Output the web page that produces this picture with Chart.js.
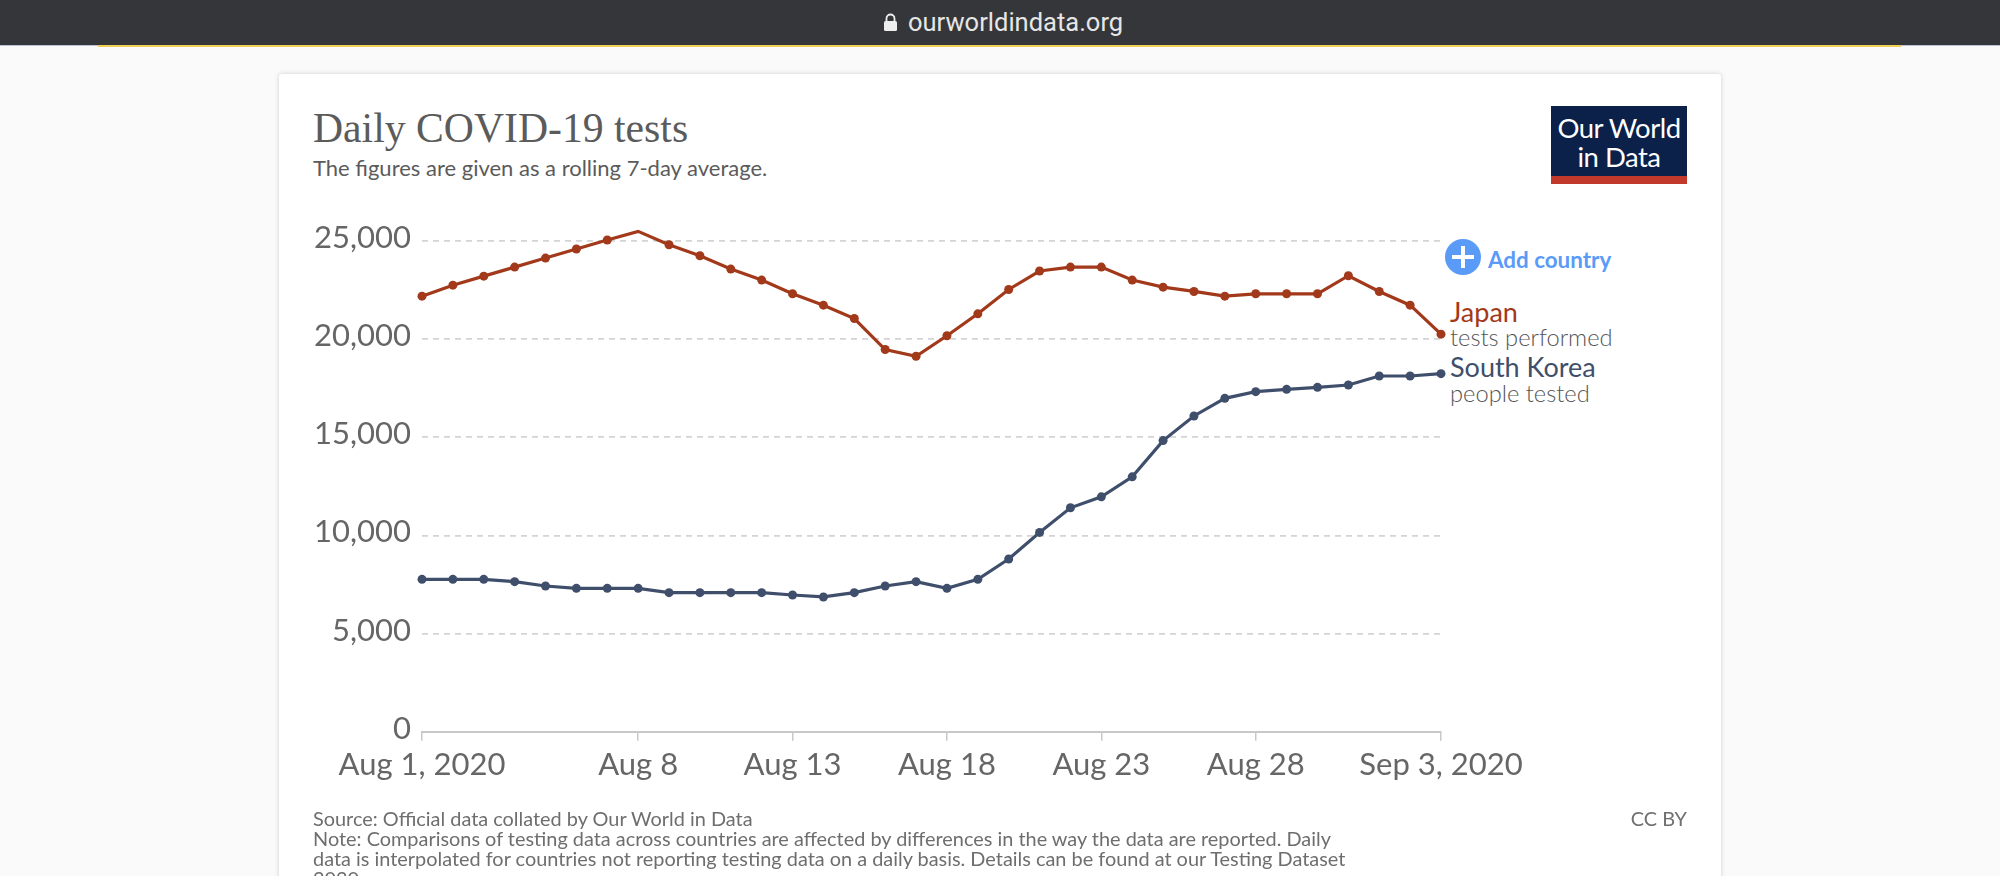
<!DOCTYPE html>
<html>
<head>
<meta charset="utf-8">
<title>Daily COVID-19 tests</title>
<script src="https://cdn.jsdelivr.net/npm/chart.js@4"></script>
<style>
html, body { margin: 0; padding: 0; width: 2000px; height: 876px; overflow: hidden; background: #fafafa; font-family: Lato, sans-serif; }
.abs { position: absolute; white-space: nowrap; line-height: 1; }
#bar { position: absolute; left: 0; top: 0; width: 2000px; height: 45px; background: #35363a; }
#barline { position: absolute; left: 0; top: 45px; width: 2000px; height: 1px; background: #b9c2d6; }
#yellow { position: absolute; left: 98px; top: 45px; width: 1803px; height: 2px; background: #f0cf55; }
#card { position: absolute; left: 279px; top: 74px; width: 1442px; height: 830px; background: #fff; border-radius: 3px; box-shadow: 0 0 5px rgba(0,0,0,0.18); }
#logo { position: absolute; left: 1551px; top: 106px; width: 136px; height: 70px; background: #0b2149; border-bottom: 8px solid #c0392b; }
#plus { position: absolute; left: 1445px; top: 239px; width: 36px; height: 36px; border-radius: 50%; background: #5b9bf8; }
#chart { position: absolute; left: 0; top: 0; }
</style>
</head>
<body>
<div id="bar"></div>
<div id="barline"></div>
<div id="yellow"></div>
<svg class="abs" style="left:883px;top:13px" width="15" height="19" viewBox="0 0 15 19">
  <path d="M3.5 8V5.5a4 4 0 0 1 8 0V8" fill="none" stroke="#eee" stroke-width="1.8"/>
  <rect x="1" y="8" width="13" height="10" rx="1.5" fill="#eee"/>
</svg>
<div class="abs" style="left:908px;top:10px;font:25.5px Roboto;color:#e6e6e6;line-height:24px">ourworldindata.org</div>
<div id="card"></div>

<div class="abs" style="left:313px;top:105px;font:41.7px 'Liberation Serif';color:#5b5b5b;line-height:46px">Daily COVID-19 tests</div>
<div class="abs" style="left:313px;top:155px;font:22px Lato;color:#5b5b5b;line-height:26px">The figures are given as a rolling 7-day average.</div>

<div id="logo">
  <div class="abs" style="left:0;width:136px;top:7px;text-align:center;font:27.5px Lato;letter-spacing:-0.5px;color:#fff;line-height:30px">Our World</div>
  <div class="abs" style="left:0;width:136px;top:36px;text-align:center;font:27.5px Lato;letter-spacing:-0.5px;color:#fff;line-height:30px">in Data</div>
</div>

<div id="plus">
  <div style="position:absolute;left:7px;top:16px;width:22px;height:4px;background:#fff"></div>
  <div style="position:absolute;left:16px;top:7px;width:4px;height:22px;background:#fff"></div>
</div>
<div class="abs" style="left:1488px;top:247px;font:bold 22.4px Lato;color:#5b9bf8;line-height:26px">Add country</div>

<div class="abs" style="left:1450px;top:297px;font:27px Lato;color:#a2391a;line-height:30px">Japan</div>
<div class="abs" style="left:1450px;top:323px;font:300 23.7px Lato;color:#555;line-height:28px">tests performed</div>
<div class="abs" style="left:1450px;top:352px;font:27px Lato;color:#3f4f6b;line-height:30px">South Korea</div>
<div class="abs" style="left:1450px;top:379px;font:300 23.7px Lato;color:#555;line-height:28px">people tested</div>

<canvas id="chart" width="2000" height="876"></canvas>

<div class="abs" style="left:313px;top:808px;font:19.9px Lato;color:#6e6e6e;line-height:20px">Source: Official data collated by Our World in Data<br>Note: Comparisons of testing data across countries are affected by differences in the way the data are reported. Daily<br>data is interpolated for countries not reporting testing data on a daily basis. Details can be found at our Testing Dataset<br>2020.</div>
<div class="abs" style="left:1620px;width:67px;top:808px;text-align:right;font:19.9px Lato;color:#6e6e6e;line-height:20px">CC BY</div>

<script>
const days = ["Aug 1, 2020","Aug 2","Aug 3","Aug 4","Aug 5","Aug 6","Aug 7","Aug 8","Aug 9","Aug 10","Aug 11",
    "Aug 12","Aug 13","Aug 14","Aug 15","Aug 16","Aug 17","Aug 18","Aug 19","Aug 20","Aug 21","Aug 22","Aug 23",
    "Aug 24","Aug 25","Aug 26","Aug 27","Aug 28","Aug 29","Aug 30","Aug 31","Sep 1","Sep 2","Sep 3, 2020"];

const xTickLabels = ["Aug 1, 2020","Aug 8","Aug 13","Aug 18","Aug 23","Aug 28","Sep 3, 2020"];
const yTickValues = [0,5000,10000,15000,20000,25000];

const japan = [22190,22750,23210,23670,24130,24590,25050,25490,24810,24250,23570,23010,22310,21730,21050,
    19470,19130,20170,21290,22530,23470,23670,23670,23010,22650,22430,22190,22310,22310,22310,23230,22430,21730,20255];

const southKorea = [7763,7763,7763,7644,7424,7305,7305,7305,7085,7085,7085,7085,6966,6865,7085,
    7424,7644,7305,7763,8797,10153,11407,11966,12983,14830,16085,16985,17325,17443,17545,17664,18122,18122,18240];

const canvas = document.getElementById("chart");
const ctx = canvas.getContext("2d");

new Chart(ctx, {
    type: "line",
    data: {
        labels: days,
        datasets: [
            { label: "Japan", data: japan, borderColor: "#a2391a", backgroundColor: "#a2391a" },
            { label: "South Korea", data: southKorea, borderColor: "#3f4f6b", backgroundColor: "#3f4f6b" }
        ]
    },
    options: {
        responsive: false,
        animation: false,
        devicePixelRatio: 1,
        clip: false,
        layout: { padding: { left: 0, top: 241, right: 559, bottom: 0 } },
        elements: {
            line: { borderWidth: 3.2, tension: 0 },
            point: { radius: 4.5, borderWidth: 0 }
        },
        plugins: { legend: { display: false }, tooltip: { enabled: false } },
        scales: {
            x: {
                type: "category",
                afterBuildTicks: (axis) => {
                    axis.ticks = axis.ticks.filter(t => xTickLabels.includes(days[t.value]));
                },
                afterFit: (axis) => { axis.height = 144.3; },
                border: { color: "#c8c8c8", width: 2 },
                grid: { drawOnChartArea: false, color: "#c8c8c8", tickLength: 9, lineWidth: 1.5 },
                ticks: {
                    autoSkip: false,
                    maxRotation: 0,
                    padding: 6,
                    color: "#666",
                    font: { family: "Lato", size: 31 }
                }
            },
            y: {
                min: 0,
                max: 25000,
                afterFit: (axis) => { axis.width = 422; },
                afterBuildTicks: (axis) => {
                    axis.ticks = yTickValues.map(v => ({ value: v }));
                },
                border: { display: false, dash: [6, 5] },
                grid: {
                    drawTicks: false,
                    lineWidth: 1.8,
                    color: (c) => c.tick && c.tick.value === 0 ? "transparent" : "#d4d4d4"
                },
                ticks: {
                    padding: 11,
                    labelOffset: -3,
                    color: "#666",
                    font: { family: "Lato", size: 31 },
                    callback: (v) => v.toLocaleString("en-US")
                }
            }
        }
    }
});
</script>
</body>
</html>
